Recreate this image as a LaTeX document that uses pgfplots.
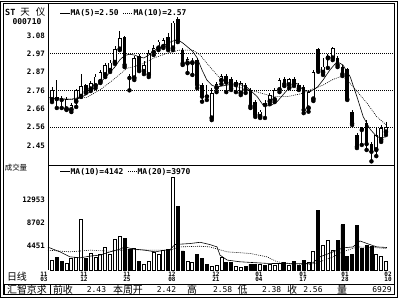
\documentclass[border=0pt]{standalone}
\usepackage{fontspec}
\usepackage{pgfplots}
\usepackage{pgfplotstable}
\pgfplotsset{compat=1.18}
\newfontfamily\mono{DejaVu Sans Mono}
\newfontfamily\cjk{Noto Sans CJK SC}

% up (hollow) candles: index, open, high, low, close, volume
\pgfplotstableread{
i o h l c v
0 2.711 2.785 2.699 2.768 1700
3 2.658 2.728 2.654 2.715 1200
4 2.654 2.694 2.642 2.682 2100
5 2.701 2.774 2.671 2.768 2300
6 2.730 2.859 2.728 2.791 9250
8 2.772 2.819 2.762 2.806 3050
9 2.791 2.859 2.779 2.844 2400
10 2.815 2.882 2.808 2.872 2900
11 2.854 2.922 2.842 2.911 4150
12 2.878 2.939 2.871 2.924 2900
13 2.924 3.019 2.917 3.000 5600
14 3.000 3.105 2.996 3.063 6100
17 2.835 2.962 2.825 2.949 3900
19 2.872 2.934 2.859 2.911 1050
20 2.854 2.996 2.842 2.978 1650
21 2.981 3.025 2.968 3.006 3150
22 3.006 3.054 2.996 3.044 2850
23 3.015 3.065 3.008 3.054 3650
25 3.006 3.162 2.996 3.153 17000
28 2.920 2.957 2.865 2.943 1500
29 2.922 2.951 2.854 2.934 1400
33 2.606 2.779 2.596 2.751 600
34 2.779 2.814 2.756 2.802 900
35 2.821 2.859 2.802 2.848 2300
38 2.796 2.825 2.756 2.815 600
39 2.749 2.819 2.739 2.806 500
43 2.615 2.654 2.608 2.644 1050
45 2.701 2.751 2.688 2.739 1100
46 2.711 2.779 2.699 2.768 800
47 2.768 2.836 2.756 2.825 1250
49 2.796 2.836 2.779 2.829 900
53 2.663 2.768 2.644 2.755 1400
54 2.715 2.882 2.705 2.872 3500
56 2.867 2.951 2.854 2.901 4550
57 2.949 2.974 2.894 2.962 5500
58 2.949 3.014 2.939 3.006 3650
67 2.425 2.551 2.390 2.511 2900
68 2.482 2.568 2.471 2.551 2450
69 2.526 2.585 2.511 2.558 1500
}\up

% down (filled) candles
\pgfplotstableread{
i o h l c v
1 2.728 2.825 2.665 2.716 2250
2 2.716 2.734 2.665 2.711 1500
7 2.796 2.802 2.751 2.758 2100
15 3.069 3.077 2.899 2.911 5800
16 2.848 2.860 2.766 2.836 3800
18 2.962 2.974 2.876 2.882 1650
24 3.069 3.094 2.996 3.006 3750
26 3.174 3.185 3.042 3.054 11700
27 2.996 3.008 2.911 2.920 3500
30 2.939 2.951 2.779 2.796 2900
31 2.796 2.808 2.701 2.730 2100
32 2.739 2.796 2.711 2.731 1100
36 2.848 2.859 2.756 2.810 1350
37 2.829 2.842 2.768 2.778 1400
40 2.796 2.808 2.751 2.768 700
41 2.768 2.779 2.665 2.676 1050
42 2.701 2.711 2.614 2.625 1050
44 2.694 2.711 2.608 2.682 800
48 2.831 2.842 2.791 2.802 1350
50 2.829 2.842 2.791 2.802 1500
51 2.796 2.808 2.768 2.778 900
52 2.787 2.796 2.636 2.654 1700
55 3.000 3.008 2.872 2.882 10950
59 2.949 2.962 2.899 2.911 5500
60 2.901 2.911 2.848 2.859 8300
61 2.886 2.894 2.711 2.716 2450
62 2.644 2.654 2.568 2.578 2850
63 2.511 2.522 2.436 2.444 8150
64 2.551 2.556 2.454 2.539 3900
65 2.579 2.596 2.425 2.459 4450
66 2.459 2.471 2.360 2.415 4300
}\down

\pgfplotstableread{
x m
-0.8 2.725
0 2.722
2 2.716
4 2.715
6 2.728
7 2.739
8 2.762
9 2.785
10 2.814
11 2.838
12 2.870
13 2.900
14 2.940
15 2.965
16 2.972
17 2.968
18 2.957
19 2.951
20 2.968
21 2.991
22 3.008
23 3.019
24 3.037
25 3.048
26 3.054
27 3.037
28 3.014
29 2.991
30 2.951
31 2.882
32 2.825
33 2.796
34 2.785
36.2 2.796
38.2 2.806
40.3 2.783
42.4 2.730
43.6 2.682
45 2.676
46.5 2.701
48.6 2.768
50.6 2.806
51.9 2.768
53.3 2.758
54.8 2.783
56 2.825
57.4 2.882
58.9 2.930
60.1 2.911
61.6 2.844
63 2.730
64.3 2.615
65.7 2.545
67.1 2.501
68 2.495
69 2.500
}\mafive

\pgfplotstableread{
x m
-0.8 2.720
4.3 2.715
7.2 2.726
9.9 2.768
12.6 2.825
15.5 2.892
18.2 2.911
20.9 2.949
23.8 2.978
26.4 2.996
29.1 2.996
30.6 2.968
32.6 2.901
34.7 2.835
37.4 2.791
40.3 2.772
43 2.752
45.7 2.730
48.6 2.730
51.2 2.745
53.3 2.768
56 2.796
58.1 2.829
60.1 2.848
62.2 2.787
65.1 2.692
67.1 2.615
69 2.570
}\maten

\pgfplotstableread{
x m
-0.83 4200
1.65 3340
3.7 2430
5.8 2240
7.85 2555
9.9 2740
12.0 3340
14.0 3830
15.1 4250
16.1 4000
17.1 3830
19.2 3650
21.3 3340
23.3 3650
24.4 3740
25.4 4690
26.4 4750
28.5 4870
30.6 5100
32.6 4690
34.1 4250
34.7 2740
36.2 1825
38.8 1515
44.4 1220
49.8 1150
52.7 1190
53.9 1330
55.4 2430
58.1 3340
60.1 4070
62.2 4250
63.6 5350
65.1 4870
67.1 4250
69.2 4142
}\vmaten

\pgfplotstableread{
x m
-0.83 3650
3.7 3340
7.85 3650
12.0 3470
16.1 3780
20.2 3650
24.4 3650
26.4 4250
30.6 4380
32.6 4250
36.2 3340
40.9 3050
44.4 2430
46.5 1515
49.8 1100
53.3 1000
55.4 1515
58.1 2430
60.1 3340
63.0 4250
66.3 4140
69.2 3970
}\vmatwenty

\tikzset{
  lab/.style={font=\mono\bfseries\fontsize{7.5}{8}\selectfont, inner sep=0pt},
  stat/.style={font=\mono\fontsize{8}{9}\selectfont, inner sep=0pt},
  cj/.style={font=\cjk\fontsize{10}{11}\selectfont, inner sep=0pt},
  dots/.style={dash pattern=on 0.9bp off 1.1bp}
}

\begin{document}
\begin{tikzpicture}[x=1bp,y=-1bp]
\useasboundingbox (0,0) rectangle (400,300);

% ---------- price panel ----------
\begin{axis}[
  at={(48bp,-5bp)}, anchor=north west,
  scale only axis, width=346bp, height=160bp,
  xmin=-0.826, xmax=70.66, ymin=2.3392, ymax=3.2537,
  axis line style={draw=none},
  xtick=\empty,
  ytick={2.45,2.555,2.66,2.765,2.87,2.975,3.08},
  yticklabels={2.45,2.56,2.66,2.76,2.87,2.97,3.08},
  major tick length=0pt,
  yticklabel style={font=\mono\bfseries\fontsize{7.5}{8}\selectfont, inner sep=0pt, xshift=-3bp},
  extra y ticks={2.555,2.765,2.975},
  extra y tick labels={},
  extra y tick style={grid=major},
  major grid style={black, line width=0.7bp, dash pattern=on 1bp off 1bp},
]
% wicks
\addplot[only marks, mark=none, error bars/.cd, y dir=plus, y explicit, error mark=none,
  error bar style={draw=black, line width=0.8bp}]
  table[x=i, y=l, y error expr=\thisrow{h}-\thisrow{l}] {\up};
\addplot[only marks, mark=none, error bars/.cd, y dir=plus, y explicit, error mark=none,
  error bar style={draw=black, line width=0.8bp}]
  table[x=i, y=l, y error expr=\thisrow{h}-\thisrow{l}] {\down};
% filled bodies
\addplot[only marks, mark=none, error bars/.cd, y dir=plus, y explicit, error mark=none,
  error bar style={draw=black, line width=3.6bp}]
  table[x=i, y=c, y error expr=\thisrow{o}-\thisrow{c}] {\down};
% hollow bodies
\addplot[only marks, mark=none, error bars/.cd, y dir=plus, y explicit, error mark=none,
  error bar style={draw=black, line width=3.6bp}]
  table[x=i, y=o, y error expr=\thisrow{c}-\thisrow{o}] {\up};
\addplot[only marks, mark=none, error bars/.cd, y dir=plus, y explicit, error mark=none,
  error bar style={draw=white, line width=2.0bp}]
  table[x=i, y expr=\thisrow{o}+0.0045, y error expr=\thisrow{c}-\thisrow{o}-0.009] {\up};
% moving averages
\addplot[black, line width=0.6bp, mark=none] table[x=x, y=m] {\mafive};
\addplot[black, line width=0.6bp, mark=none, dots] table[x=x, y=m] {\maten};
\end{axis}

% ---------- volume panel ----------
\begin{axis}[
  at={(48bp,-165bp)}, anchor=north west,
  scale only axis, width=346bp, height=105bp,
  xmin=-0.826, xmax=70.66, ymin=0, ymax=19320,
  axis line style={draw=none},
  xtick=\empty,
  scaled y ticks=false,
  ytick={4451,8702,12953},
  yticklabels={4451,8702,12953},
  major tick length=0pt,
  yticklabel style={font=\mono\bfseries\fontsize{7.5}{8}\selectfont, inner sep=0pt, xshift=-3bp},
]
\addplot[ybar, bar width=3.0bp, bar shift=0pt, fill=white, draw=black, line width=0.8bp]
  table[x=i, y=v] {\up};
\addplot[ybar, bar width=3.0bp, bar shift=0pt, fill=black, draw=black, line width=0.8bp]
  table[x=i, y=v] {\down};
\addplot[black, line width=0.6bp, mark=none] table[x=x, y=m] {\vmaten};
\addplot[black, line width=0.6bp, mark=none, dots] table[x=x, y=m] {\vmatwenty};
\end{axis}

% ---------- frame ----------
\draw[line width=1bp] (0.5,1.5) rectangle (397,297.5);
\draw[line width=1bp] (3,3.7) rectangle (394,294.3);
\draw[line width=1bp] (48,3.7) -- (48,270);
\draw[line width=1bp] (48,165) -- (394,165);
\draw[line width=1bp] (3,284) -- (394,284);
\draw[line width=1bp] (4,284) rectangle (50,294.3);

% ---------- header texts ----------
\node[anchor=west, font=\mono\bfseries\fontsize{8.5}{9}\selectfont, inner sep=0pt] at (5,12.5) {ST};
\node[cj, font=\cjk\fontsize{9.5}{10}\selectfont] at (25,12) {天};
\node[cj, font=\cjk\fontsize{9.5}{10}\selectfont] at (40.5,12) {仪};
\node[lab, font=\mono\bfseries\fontsize{8}{9}\selectfont] at (27,21.8) {000710};

\draw[line width=0.7bp] (60,13.3) -- (70,13.3);
\node[lab, anchor=west, font=\mono\bfseries\fontsize{8}{9}\selectfont] at (70.5,13.3) {MA(5)=2.50};
\draw[line width=0.7bp, dots] (123,13.3) -- (133,13.3);
\node[lab, anchor=west, font=\mono\bfseries\fontsize{8}{9}\selectfont] at (133.5,13.3) {MA(10)=2.57};

\node[cj, font=\cjk\fontsize{7.5}{8}\selectfont] at (16,168) {成交量};
\draw[line width=0.7bp] (60,171.7) -- (70,171.7);
\node[lab, anchor=west, font=\mono\bfseries\fontsize{8}{9}\selectfont] at (70.5,171.7) {MA(10)=4142};
\draw[line width=0.7bp, dots] (128,171.7) -- (137,171.7);
\node[lab, anchor=west, font=\mono\bfseries\fontsize{8}{9}\selectfont] at (137.5,171.7) {MA(20)=3970};

% ---------- date labels ----------
\node[cj] at (17,276.5) {日线};
\foreach \xx/\a/\b in {44/11/03, 84/11/12, 127/11/25, 172/12/08, 216/12/21, 259/01/04, 303/01/17, 345/01/28, 388/02/10}{
  \node[font=\mono\bfseries\fontsize{6}{6}\selectfont, inner sep=0pt] at (\xx,274) {\a};
  \node[font=\mono\bfseries\fontsize{6}{6}\selectfont, inner sep=0pt] at (\xx,279.5) {\b};
}

% ---------- status bar ----------
\node[cj] at (27,289.3) {汇智京求};
\node[cj] at (63,289.3) {前收};
\node[stat] at (96.5,289.3) {2.43};
\node[cj] at (128,289.3) {本周开};
\node[stat] at (166.5,289.3) {2.42};
\node[cj] at (192,289.3) {高};
\node[stat] at (222.7,289.3) {2.58};
\node[cj] at (242.5,289.3) {低};
\node[stat] at (271.7,289.3) {2.38};
\node[cj] at (292,289.3) {收};
\node[stat] at (313,289.3) {2.56};
\node[cj] at (342,289.3) {量};
\node[stat] at (382,289.3) {6929};
\end{tikzpicture}
\end{document}
